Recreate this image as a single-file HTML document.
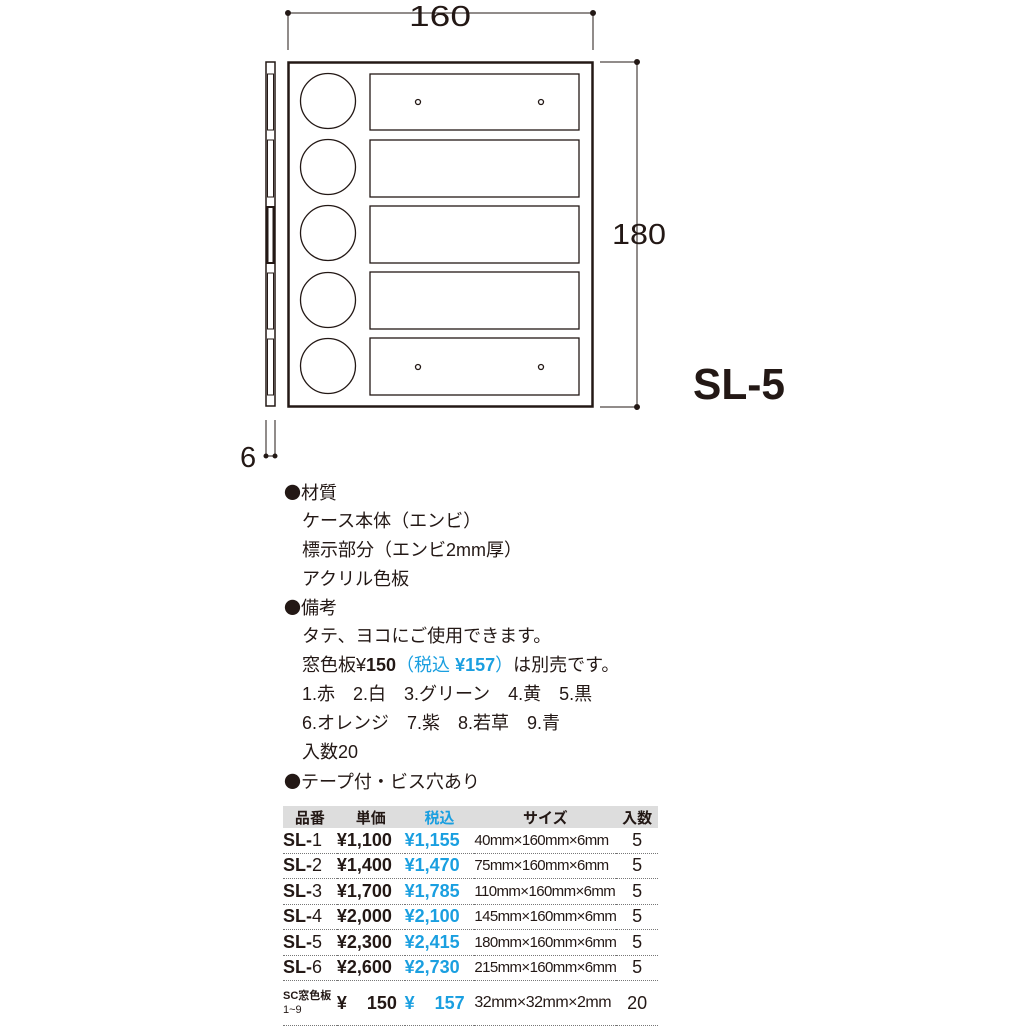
<!DOCTYPE html>
<html><head><meta charset="utf-8"><style>
body{margin:0;width:1024px;height:1024px;background:#fff;position:relative;overflow:hidden;font-family:"Liberation Sans","Noto Sans CJK JP",sans-serif;color:#231815}
.t{position:absolute;font-size:18px;line-height:20px;white-space:nowrap}
.bl{font-family:"Noto Sans CJK JP",sans-serif;font-size:17px}
.b{color:#1a9fe0}
table{position:absolute;left:283px;top:806px;width:375px;border-collapse:collapse;font-size:18px}
td{padding:0;height:24.5px;white-space:nowrap;border-bottom:1.5px dotted #777}
tr.h td{background:#ddd;font-weight:bold;height:22px;border-bottom:none;font-size:15px}
.sz{font-size:15px;letter-spacing:-0.6px}
</style></head><body>
<svg width="1024" height="470" style="position:absolute;left:0;top:0" fill="none" stroke="#231815">
<line x1="288" y1="13" x2="593" y2="13" stroke-width="1"/>
<line x1="288" y1="13" x2="288" y2="50" stroke-width="1"/>
<line x1="593" y1="13" x2="593" y2="50" stroke-width="1"/>
<circle cx="288" cy="13" r="2.5" fill="#231815"/><circle cx="593" cy="13" r="2.5" fill="#231815"/>
<line x1="600" y1="62" x2="637" y2="62" stroke-width="1"/>
<line x1="600" y1="407" x2="637" y2="407" stroke-width="1"/>
<line x1="637" y1="62" x2="637" y2="407" stroke-width="1"/>
<circle cx="637" cy="62" r="2.5" fill="#231815"/><circle cx="637" cy="407" r="2.5" fill="#231815"/>
<rect x="288.5" y="62.5" width="304" height="344" stroke-width="2.5"/>
<g stroke-width="1.3">
<circle cx="328" cy="101" r="27.5"/><circle cx="328" cy="167" r="27.5"/><circle cx="328" cy="233" r="27.5"/><circle cx="328" cy="300" r="27.5"/><circle cx="328" cy="366" r="27.5"/>
<rect x="370" y="74" width="209" height="56"/><rect x="370" y="140" width="209" height="57"/><rect x="370" y="206" width="209" height="57"/><rect x="370" y="272" width="209" height="57"/><rect x="370" y="338" width="209" height="57"/>
<circle cx="418" cy="102" r="2.5"/><circle cx="541" cy="102" r="2.5"/><circle cx="418" cy="367" r="2.5"/><circle cx="541" cy="367" r="2.5"/>
</g>
<rect x="266" y="62" width="9" height="344" stroke-width="1.5"/>
<g stroke-width="1">
<rect x="267.5" y="74" width="6" height="56"/><rect x="267.5" y="140" width="6" height="57"/><rect x="267.5" y="207" width="6" height="56" stroke-width="2"/><rect x="267.5" y="273" width="6" height="56"/><rect x="267.5" y="339" width="6" height="56"/>
<line x1="266" y1="420" x2="266" y2="456"/><line x1="275" y1="420" x2="275" y2="456"/><line x1="266" y1="456" x2="275" y2="456"/>
</g>
<circle cx="266" cy="456" r="2" fill="#231815"/><circle cx="275" cy="456" r="2" fill="#231815"/>
<g fill="#231815" stroke="none" font-family="Liberation Sans,sans-serif">
<text x="440" y="26" font-size="29" text-anchor="middle" textLength="62" lengthAdjust="spacingAndGlyphs">160</text>
<text x="612" y="244" font-size="29" textLength="54" lengthAdjust="spacingAndGlyphs">180</text>
<text x="240" y="467" font-size="29">6</text>
<text x="693" y="399" font-size="44" font-weight="bold" textLength="92" lengthAdjust="spacingAndGlyphs">SL-5</text>
</g>
</svg>
<div class="t" style="left:284px;top:482px"><span class="bl">●</span>材質</div>
<div class="t" style="left:302px;top:511px">ケース本体（エンビ）</div>
<div class="t" style="left:302px;top:540px">標示部分（エンビ2mm厚）</div>
<div class="t" style="left:302px;top:569px">アクリル色板</div>
<div class="t" style="left:284px;top:597px"><span class="bl">●</span>備考</div>
<div class="t" style="left:302px;top:626px">タテ、ヨコにご使用できます。</div>
<div class="t" style="left:302px;top:655px">窓色板¥<b>150</b><span class="b">（税込 <b>¥157</b>）</span>は別売です。</div>
<div class="t" style="left:302px;top:684px">1.赤　2.白　3.グリーン　4.黄　5.黒</div>
<div class="t" style="left:302px;top:713px">6.オレンジ　7.紫　8.若草　9.青</div>
<div class="t" style="left:302px;top:742px">入数20</div>
<div class="t" style="left:284px;top:771px"><span class="bl">●</span>テープ付・ビス穴あり</div>
<table>
<tr class="h"><td style="width:54px;text-align:center">品番</td><td style="width:68px;text-align:center">単価</td><td style="width:70px;text-align:center" class="b">税込</td><td style="text-align:center">サイズ</td><td style="width:42px;text-align:center">入数</td></tr>
<tr><td><b>SL-</b>1</td><td><b>¥1,100</b></td><td class="b"><b>¥1,155</b></td><td class="sz">40mm×160mm×6mm</td><td style="text-align:center">5</td></tr>
<tr><td><b>SL-</b>2</td><td><b>¥1,400</b></td><td class="b"><b>¥1,470</b></td><td class="sz">75mm×160mm×6mm</td><td style="text-align:center">5</td></tr>
<tr><td><b>SL-</b>3</td><td><b>¥1,700</b></td><td class="b"><b>¥1,785</b></td><td class="sz">110mm×160mm×6mm</td><td style="text-align:center">5</td></tr>
<tr><td><b>SL-</b>4</td><td><b>¥2,000</b></td><td class="b"><b>¥2,100</b></td><td class="sz">145mm×160mm×6mm</td><td style="text-align:center">5</td></tr>
<tr><td><b>SL-</b>5</td><td><b>¥2,300</b></td><td class="b"><b>¥2,415</b></td><td class="sz">180mm×160mm×6mm</td><td style="text-align:center">5</td></tr>
<tr><td><b>SL-</b>6</td><td><b>¥2,600</b></td><td class="b"><b>¥2,730</b></td><td class="sz">215mm×160mm×6mm</td><td style="text-align:center">5</td></tr>
<tr><td style="height:44px;font-size:11px;line-height:14px"><b>SC窓色板</b><br>1~9</td><td><b>¥&nbsp;&nbsp;&nbsp;&nbsp;150</b></td><td class="b"><b>¥&nbsp;&nbsp;&nbsp;&nbsp;157</b></td><td style="font-size:16px;letter-spacing:-0.5px">32mm×32mm×2mm</td><td style="text-align:center">20</td></tr>
</table>
</body></html>
